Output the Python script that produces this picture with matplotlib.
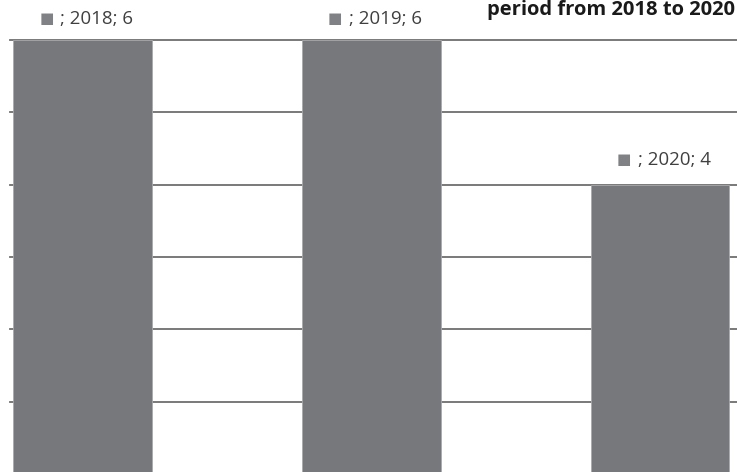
import matplotlib.pyplot as plt

years = ["2018", "2019", "2020"]
counts = [6, 6, 4]

plt.rcParams["font.family"] = ["Open Sans", "DejaVu Sans"]

fig = plt.figure(figsize=(7.37, 4.72), dpi=100)
ax = fig.add_axes([0, 0, 1, 1])

xs = range(len(years))
ax.bar(xs, counts, width=0.48, color="#77787b", edgecolor="#a9aaac",
       linewidth=0.6, zorder=3)

ax.set_xlim(-0.286, 2.267)
ax.set_ylim(0.03, 6.55)

# horizontal gridlines, starting a little in from the left edge
for level in range(1, 7):
    ax.axhline(level, xmin=0.014, xmax=1, color="#6e6e6e", linewidth=1.3, zorder=1)

for x, year, n in zip(xs, years, counts):
    lift = 15 if n == 6 else 18
    ax.annotate("\u25a0", (x, n), xytext=(-26, lift), textcoords="offset points",
                ha="center", va="center", fontsize=11, color="#808184",
                family="DejaVu Sans")
    ax.annotate(f"; {year}; {n}", (x, n), xytext=(-16, lift),
                textcoords="offset points", ha="left", va="center",
                fontsize=13.5, color="#404040")

fig.text(0.997, 1 - 15 / 472, "period from 2018 to 2020", ha="right", va="baseline",
         fontsize=14.5, fontweight="bold", color="#1a1a1a")

ax.axis("off")
fig.savefig("out.png", dpi=100)
